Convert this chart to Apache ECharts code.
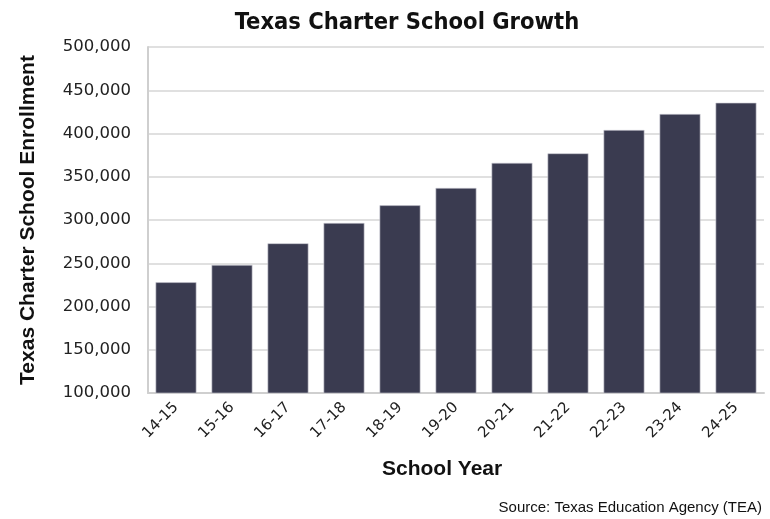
<!DOCTYPE html>
<html>
<head>
<meta charset="utf-8">
<script src="https://cdn.jsdelivr.net/npm/echarts@6/dist/echarts.min.js"></script>
<style>
  html, body { margin: 0; padding: 0; background: #fff; }
  #chart { width: 770px; height: 519px; }
</style>
</head>
<body>
<div id="chart"></div>
<script>
// School years and charter school enrollment
const schoolYears = ['14-15', '15-16', '16-17', '17-18', '18-19', '19-20', '20-21', '21-22', '22-23', '23-24', '24-25'];
const enrollment = [228000, 248000, 273000, 296500, 317000, 337000, 366000, 377000, 404000, 422500, 435500];
const yTicks = { min: 100000, max: 500000, step: 50000 };

const chart = echarts.init(document.getElementById('chart'), null, { renderer: 'canvas' });

chart.setOption({
  animation: false,
  backgroundColor: '#ffffff',
  title: {
    text: 'Texas Charter School Growth',
    left: 402,
    textAlign: 'center',
    top: 6,
    textStyle: {
      fontFamily: '"DejaVu Sans Condensed", "Liberation Sans", sans-serif',
      fontWeight: 'bold',
      fontSize: 23.5,
      color: '#111111'
    }
  },
  graphic: [{
    type: 'text',
    right: 8,
    top: 500,
    style: {
      text: 'Source: Texas Education Agency (TEA)',
      font: '15px "Liberation Sans", Arial, sans-serif',
      fill: '#111111'
    }
  }, {
    type: 'text',
    left: 382,
    top: 459,
    style: {
      text: 'School Year',
      font: 'bold 21px "Liberation Sans", Arial, sans-serif',
      fill: '#111111'
    }
  }],
  grid: { left: 148, right: 6, top: 47, bottom: 126 },
  xAxis: {
    type: 'category',
    data: schoolYears,
    axisLine: { lineStyle: { color: '#cfcfcf', width: 2 } },
    axisTick: { show: false },
    axisLabel: {
      rotate: 45,
      margin: 12,
      fontFamily: '"DejaVu Sans", sans-serif',
      fontSize: 15,
      color: '#222222'
    }
  },
  yAxis: {
    type: 'value',
    min: yTicks.min,
    max: yTicks.max,
    interval: yTicks.step,
    name: 'Texas Charter School Enrollment',
    nameLocation: 'middle',
    nameGap: 109,
    nameTextStyle: {
      fontFamily: '"Liberation Sans", Arial, sans-serif',
      fontWeight: 'bold',
      fontSize: 21,
      color: '#111111'
    },
    axisLine: { show: true, lineStyle: { color: '#cfcfcf', width: 2 } },
    axisTick: { show: false },
    splitLine: { lineStyle: { color: '#d6d6d6', width: 1.5 } },
    axisLabel: {
      margin: 17,
      fontFamily: '"DejaVu Sans", sans-serif',
      fontSize: 16.5,
      color: '#222222',
      formatter: v => v.toLocaleString('en-US')
    }
  },
  series: [{
    type: 'bar',
    data: enrollment,
    barCategoryGap: '27%',
    itemStyle: {
      color: '#3a3b50',
      borderColor: '#c9c9d2',
      borderWidth: 0.6
    }
  }]
});
</script>
</body>
</html>
